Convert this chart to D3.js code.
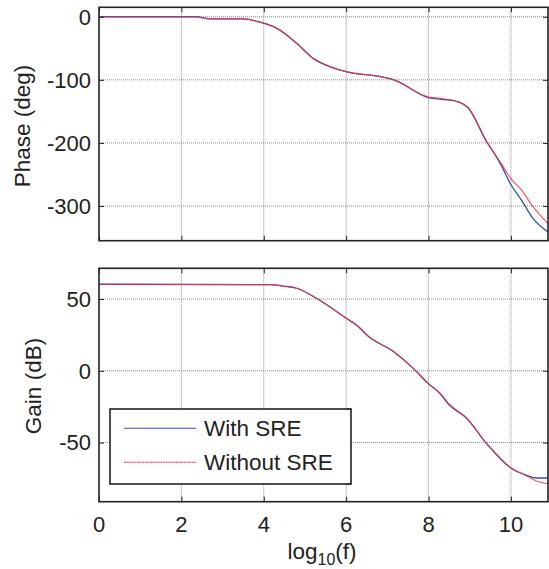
<!DOCTYPE html>
<html><head><meta charset="utf-8">
<script src="https://cdn.jsdelivr.net/npm/d3@7"></script>
<style>body{margin:0;background:#fff}svg{display:block}</style>
</head><body>
<svg id="c" width="549" height="569"></svg>
<script>
// ---- data ----
const xTicks = [0, 2, 4, 6, 8, 10];
const phaseTicks = [0, -100, -200, -300];
const gainTicks = [50, 0, -50];
const seriesNames = ["With SRE", "Without SRE"];

const phaseX =        [0, 2.35, 2.7, 3.5, 3.96, 4.31, 4.8, 5.2, 5.6, 6.0, 6.33, 6.6, 7.18, 7.99, 8.3, 8.68, 8.97, 9.41, 9.65, 9.8, 9.98, 10.26, 10.54, 10.9];
const phaseWith =     [0, 0, -3.5, -3.5, -9.5, -18, -42, -66, -79, -87, -91, -92.5, -100.5, -128, -131, -134, -145, -198, -222, -240, -264, -291, -320, -341];
const phaseWithout =  [0, 0, -3.5, -3.5, -9.5, -18, -42, -66, -79, -87, -91, -92.5, -100.5, -127, -129.5, -134, -145, -198, -222, -236, -255, -275, -301.5, -328];

const gainX =       [0, 4.15, 4.47, 4.8, 5.28, 6.0, 6.3, 6.5, 7.18, 7.63, 7.99, 8.28, 8.48, 8.93, 9.41, 10.0, 10.38, 10.62, 10.9];
const gainWith =    [60.3, 60, 59, 57.5, 50.5, 36.6, 30.7, 25, 12.8, 1.7, -8.8, -15.8, -23.2, -33.2, -50.7, -67.7, -72.8, -74.7, -74.7];
const gainWithout = [60.3, 60, 59, 57.5, 50.5, 36.6, 30.7, 25, 12.8, 1.7, -8.8, -15.8, -22.5, -33.2, -50.7, -67.7, -73.2, -76.8, -78.6];

// ---- layout ----
const svg = d3.select("#c");
const L = 99, R = 548;
const FONT = "'Liberation Sans', Arial, Helvetica, sans-serif";
const blue = "#2f4fb8", red = "#f03040";

const x = d3.scaleLinear().domain([0, 10.9]).range([L, R]);
const yP = d3.scaleLinear().domain([-355, 15]).range([240.7, 7.3]);
const yG = d3.scaleLinear().domain([-91.2, 71.4]).range([501.7, 268.3]);

function panel(y, yTicks, xs, s1, s2, showX) {
  const T = y.range()[1], B = y.range()[0];
  const g = svg.append("g");
  g.selectAll(".gx").data(xTicks.filter(d => d > 0)).join("line")
    .attr("x1", d => x(d)).attr("x2", d => x(d)).attr("y1", T).attr("y2", B)
    .attr("stroke", "#7a7a7a").attr("stroke-width", 0.9).attr("stroke-dasharray", "1,1");
  g.selectAll(".gy").data(yTicks).join("line")
    .attr("x1", L).attr("x2", R).attr("y1", d => y(d)).attr("y2", d => y(d))
    .attr("stroke", "#7a7a7a").attr("stroke-width", 0.9).attr("stroke-dasharray", "1,1");
  const line = (ys) => d3.line().x((d, i) => x(xs[i])).y(d => y(d)).curve(d3.curveMonotoneX)(ys);
  g.append("path").attr("d", line(s1)).attr("fill", "none").attr("stroke", blue).attr("stroke-width", 1.3);
  g.append("path").attr("d", line(s2)).attr("fill", "none").attr("stroke", red).attr("stroke-width", 1.2).attr("stroke-opacity", 0.8);
  const ax = (gen, tx, ty) => g.append("g").attr("transform", `translate(${tx},${ty})`).call(gen)
    .call(s => { s.select(".domain").remove(); s.selectAll("text").remove(); s.selectAll("line").attr("stroke", "#222"); });
  ax(d3.axisBottom(x).tickValues(xTicks).tickSize(-5), 0, B);
  ax(d3.axisTop(x).tickValues(xTicks).tickSize(-5), 0, T);
  ax(d3.axisLeft(y).tickValues(yTicks).tickSize(-5), L, 0);
  ax(d3.axisRight(y).tickValues(yTicks).tickSize(-5), R, 0);
  g.append("rect").attr("x", L).attr("y", T).attr("width", R - L).attr("height", B - T)
    .attr("fill", "none").attr("stroke", "#222").attr("stroke-width", 1.6);
  g.selectAll(".yl").data(yTicks).join("text")
    .attr("x", L - 8).attr("y", d => y(d)).attr("dy", "0.36em").attr("text-anchor", "end")
    .attr("font-family", FONT).attr("font-size", 22).attr("fill", "#222").text(d => String(d));
  if (showX) {
    g.selectAll(".xl").data(xTicks).join("text")
      .attr("x", d => x(d)).attr("y", 532).attr("text-anchor", "middle")
      .attr("font-family", FONT).attr("font-size", 22).attr("fill", "#222").text(d => String(d));
  }
}

panel(yP, phaseTicks, phaseX, phaseWith, phaseWithout, false);
panel(yG, gainTicks, gainX, gainWith, gainWithout, true);

svg.append("text").attr("transform", "translate(30,126) rotate(-90)").attr("text-anchor", "middle")
  .attr("font-family", FONT).attr("font-size", 22.5).attr("fill", "#222").text("Phase (deg)");
svg.append("text").attr("transform", "translate(41,386) rotate(-90)").attr("text-anchor", "middle")
  .attr("font-family", FONT).attr("font-size", 22.5).attr("fill", "#222").text("Gain (dB)");

const xl = svg.append("text").attr("x", 322).attr("y", 559).attr("text-anchor", "middle")
  .attr("font-family", FONT).attr("font-size", 22.5).attr("fill", "#222");
xl.append("tspan").text("log");
xl.append("tspan").attr("font-size", 16).attr("dy", 6).text("10");
xl.append("tspan").attr("dy", -6).text("(f)");

const lg = svg.append("g");
lg.append("rect").attr("x", 110).attr("y", 409).attr("width", 241).attr("height", 75)
  .attr("fill", "#fff").attr("stroke", "#222").attr("stroke-width", 1.6);
[409, 484].forEach(yy => lg.append("line").attr("x1", 351).attr("x2", 346).attr("y1", yy).attr("y2", yy).attr("stroke", "#222"));
const legY = [428.3, 462.3];
const legC = [blue, red];
seriesNames.forEach((n, i) => {
  lg.append("line").attr("x1", 124).attr("x2", 196).attr("y1", legY[i]).attr("y2", legY[i])
    .attr("stroke", legC[i]).attr("stroke-width", 1.1).attr("stroke-dasharray", i ? "2,0.6" : null);
  lg.append("text").attr("x", 204).attr("y", legY[i]).attr("dy", "0.36em")
    .attr("font-family", FONT).attr("font-size", 22.5).attr("fill", "#222").text(n);
});
</script>
</body></html>
